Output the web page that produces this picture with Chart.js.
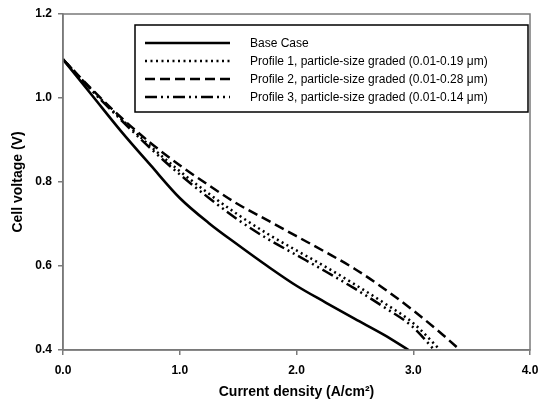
<!DOCTYPE html>
<html>
<head>
<meta charset="utf-8">
<script src="https://cdn.jsdelivr.net/npm/chart.js@4"></script>
<style>
  html, body { margin: 0; padding: 0; background: #fff; }
  #wrap { width: 538px; height: 405px; position: relative; }
</style>
</head>
<body>
<div id="wrap"><canvas id="polarization-chart"></canvas></div>
<script>
// current density (A/cm2) and cell voltage (V)
const baseX = [0, 0.25, 0.5, 0.75, 1.0, 1.25, 1.5, 1.75, 2.0, 2.25, 2.5, 2.75, 2.96];
const baseV = [1.092, 1.006, 0.92, 0.84, 0.762, 0.702, 0.65, 0.6, 0.553, 0.513, 0.474, 0.436, 0.4];

const profile1X = [0, 0.25, 0.5, 0.75, 1.0, 1.25, 1.5, 1.75, 2.0, 2.25, 2.5, 2.75, 3.0, 3.23];
const profile1V = [1.092, 1.018, 0.95, 0.885, 0.826, 0.772, 0.722, 0.677, 0.637, 0.598, 0.556, 0.512, 0.464, 0.4];

const profile2X = [0, 0.25, 0.5, 0.75, 1.0, 1.25, 1.5, 1.75, 2.0, 2.25, 2.5, 2.75, 3.0, 3.25, 3.4];
const profile2V = [1.092, 1.02, 0.953, 0.893, 0.84, 0.792, 0.747, 0.709, 0.671, 0.633, 0.593, 0.546, 0.494, 0.437, 0.4];

const profile3X = [0, 0.25, 0.5, 0.75, 1.0, 1.25, 1.5, 1.75, 2.0, 2.25, 2.5, 2.75, 3.0, 3.18];
const profile3V = [1.092, 1.017, 0.947, 0.88, 0.818, 0.762, 0.71, 0.665, 0.626, 0.587, 0.546, 0.502, 0.454, 0.4];

const seriesLabels = [
  'Base Case',
  'Profile 1, particle-size graded (0.01-0.19 \u03bcm)',
  'Profile 2, particle-size graded (0.01-0.28 \u03bcm)',
  'Profile 3, particle-size graded (0.01-0.14 \u03bcm)',
];

const xTicks = [0, 1, 2, 3, 4];
const yTicks = [0.4, 0.6, 0.8, 1.0, 1.2];

const toPoints = (xs, ys) => xs.map((x, i) => ({ x: x, y: ys[i] }));

const frameColor = '#7a7a7a';

// box round the plot plus the boxed legend in the upper right
const framePlugin = {
  id: 'frameAndLegend',
  afterDatasetsDraw(chart) {
    const { ctx, chartArea: a } = chart;
    ctx.save();
    ctx.strokeStyle = frameColor;
    ctx.lineWidth = 1.5;
    ctx.strokeRect(a.left, a.top, a.right - a.left, a.bottom - a.top);

    // legend box
    const bx = 135, by = 25, bw = 393, bh = 87;
    ctx.fillStyle = '#fff';
    ctx.fillRect(bx, by, bw, bh);
    ctx.strokeStyle = '#000';
    ctx.lineWidth = 1.5;
    ctx.strokeRect(bx, by, bw, bh);

    ctx.font = '12px "Liberation Sans", Arial, sans-serif';
    ctx.textBaseline = 'middle';
    chart.data.datasets.forEach((ds, i) => {
      const y = 43 + i * 18;
      ctx.strokeStyle = '#000';
      ctx.lineWidth = ds.borderWidth;
      ctx.setLineDash(ds.borderDash || []);
      ctx.beginPath();
      ctx.moveTo(145, y);
      ctx.lineTo(230, y);
      ctx.stroke();
      ctx.setLineDash([]);
      ctx.fillStyle = '#000';
      ctx.fillText(ds.label, 250, y + 1);
    });
    ctx.restore();
  }
};

const tickFont = { family: '"Liberation Sans", Arial, sans-serif', size: 12, weight: 'bold' };
const titleFont = { family: '"Liberation Sans", Arial, sans-serif', size: 14, weight: 'bold' };

new Chart(document.getElementById('polarization-chart').getContext('2d'), {
  type: 'line',
  data: {
    datasets: [
      {
        label: seriesLabels[0],
        data: toPoints(baseX, baseV),
        borderColor: '#000',
        borderWidth: 2.6,
      },
      {
        label: seriesLabels[1],
        data: toPoints(profile1X, profile1V),
        borderColor: '#000',
        borderWidth: 2.5,
        borderDash: [2, 3.5],
      },
      {
        label: seriesLabels[2],
        data: toPoints(profile2X, profile2V),
        borderColor: '#000',
        borderWidth: 2.5,
        borderDash: [10, 5],
      },
      {
        label: seriesLabels[3],
        data: toPoints(profile3X, profile3V),
        borderColor: '#000',
        borderWidth: 2.5,
        borderDash: [12, 4, 2, 4, 2, 4],
      },
    ]
  },
  options: {
    responsive: true,
    maintainAspectRatio: false,
    animation: false,
    layout: { padding: { left: 0, top: 14, right: 0, bottom: 0 } },
    elements: {
      point: { radius: 0 },
      line: { cubicInterpolationMode: 'monotone', fill: false },
    },
    plugins: {
      legend: { display: false },
      tooltip: { enabled: false },
    },
    scales: {
      x: {
        type: 'linear',
        min: 0,
        max: 4,
        afterBuildTicks: (scale) => { scale.ticks = xTicks.map(v => ({ value: v })); },
        afterFit: (scale) => {
          scale.height = 55;
          // the "4.0" label is allowed to run to the page edge, as in the original
          scale.paddingRight = 8;
        },
        ticks: {
          color: '#000',
          font: tickFont,
          padding: 8,
          maxRotation: 0,
          callback: (v) => Number(v).toFixed(1),
        },
        grid: { display: true, drawOnChartArea: false, drawTicks: true, tickLength: 5, color: frameColor, lineWidth: 1.5 },
        border: { display: true, color: frameColor, width: 1.5 },
        title: {
          display: true,
          text: 'Current density (A/cm\u00b2)',
          color: '#000',
          font: titleFont,
          padding: { top: 6, bottom: 4 },
        },
      },
      y: {
        type: 'linear',
        min: 0.4,
        max: 1.2,
        afterBuildTicks: (scale) => { scale.ticks = yTicks.map(v => ({ value: v })); },
        afterFit: (scale) => { scale.width = 63; },
        ticks: {
          color: '#000',
          font: tickFont,
          padding: 6,
          callback: (v) => Number(v).toFixed(1),
        },
        grid: { display: true, drawOnChartArea: false, drawTicks: true, tickLength: 5, color: frameColor, lineWidth: 1.5 },
        border: { display: true, color: frameColor, width: 1.5 },
        title: {
          display: true,
          text: 'Cell voltage (V)',
          color: '#000',
          font: titleFont,
          padding: { top: 10, bottom: 0 },
        },
      }
    }
  },
  plugins: [framePlugin]
});
</script>
</body>
</html>
